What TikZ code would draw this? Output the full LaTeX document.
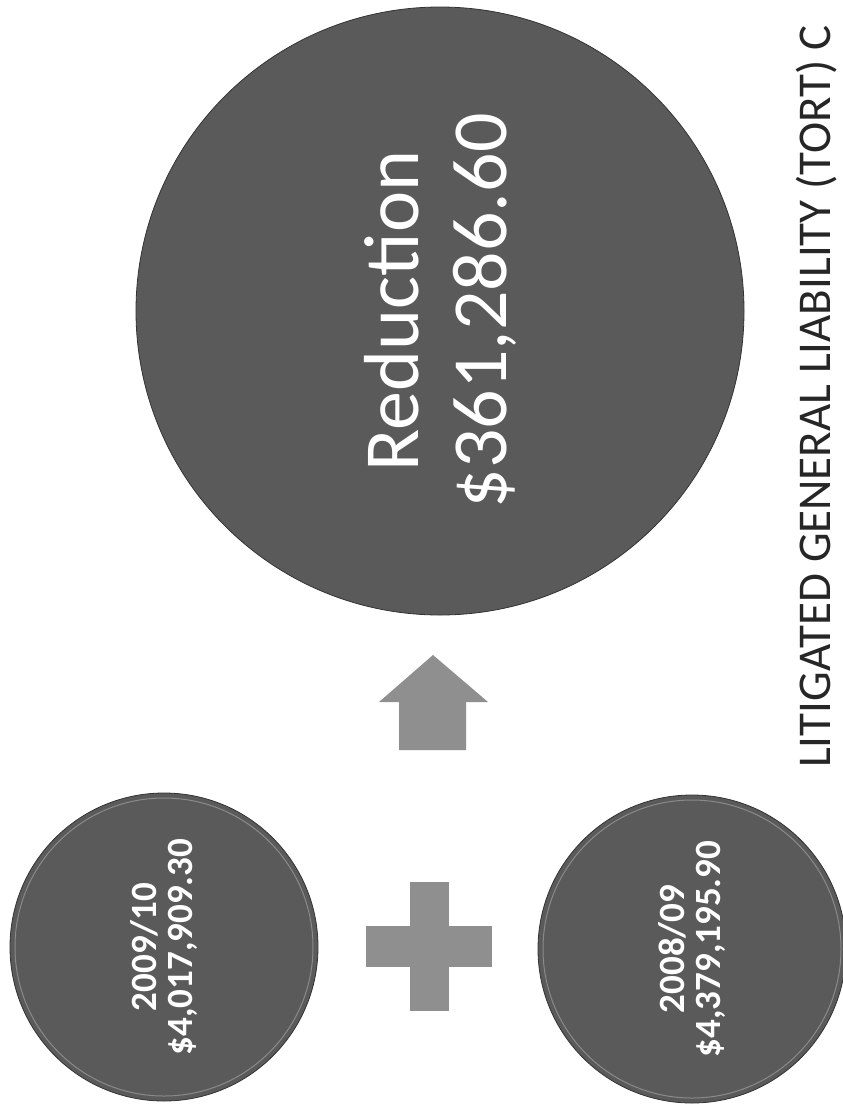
\documentclass[tikz,border=0pt]{standalone}
\usepackage{fontspec}
\setmainfont{Carlito}

\definecolor{discgray}{HTML}{5A5A5A}
\definecolor{rimgray}{HTML}{8A8A8A}
\definecolor{signgray}{HTML}{8F8F8F}

\begin{document}
\begin{tikzpicture}[x=1bp, y=-1bp,
  disc/.style={circle, fill=discgray, draw=black!80, line width=0.8bp, inner sep=0pt, text=white, align=center, rotate=90},
  bigdisc/.style={disc, minimum size=608bp, font=\fontsize{78bp}{88bp}\selectfont},
  smalldisc/.style={disc, minimum size=308bp, font=\bfseries\fontsize{37bp}{36bp}\selectfont},
  sign/.style={fill=signgray}]
% Page
\useasboundingbox (0,0) rectangle (843,1104);
\clip (0,0) rectangle (843,1104);
\fill[white] (0,0) rectangle (843,1104);

% Result circle
\node[bigdisc] (reduction) at (440,311) {Reduction\\\$361,286.60};

% Year circles
\node[smalldisc] (y0910) at (164,947) {2009/10\\\$4,017,909.30};
\node[smalldisc] (y0809) at (692,949) {2008/09\\\$4,379,195.90};

% Inner rims
\draw[rimgray, line width=1bp] (y0910.center) circle[radius=149bp];
\draw[rimgray, line width=1bp] (y0809.center) circle[radius=149bp];

% Plus sign
\fill[sign] (410,882) rectangle (449,1011);
\fill[sign] (366,926) rectangle (492,967);

% Up arrow
\fill[sign] (399,750) -- (399,702) -- (379,702) -- (433,655) -- (488,702) -- (466,702) -- (466,750) -- cycle;

% Title
\node[rotate=90, anchor=base west, inner sep=0pt, font=\fontsize{47bp}{56bp}\selectfont, text=black!85] (title) at (830,768) {LITIGATED GENERAL LIABILITY (TORT) C};
\end{tikzpicture}
\end{document}
